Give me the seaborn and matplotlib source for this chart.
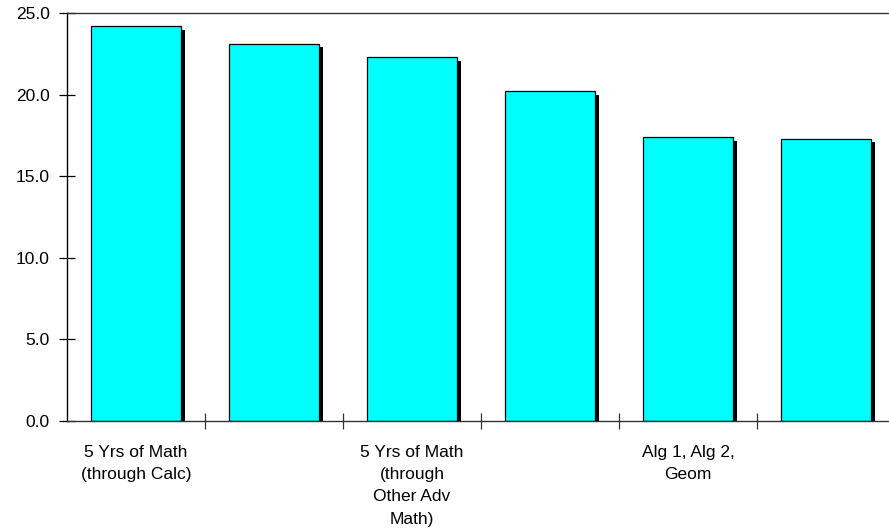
import matplotlib
matplotlib.use("Agg")
import matplotlib.pyplot as plt
import matplotlib.patheffects as pe
from matplotlib.ticker import FixedLocator, FormatStrFormatter
import numpy as np
import pandas as pd
import seaborn as sns

# Average scores by course-taking pattern
slots = [0, 1, 2, 3, 4, 5]
scores = [24.2, 23.1, 22.3, 20.2, 17.4, 17.3]
tick_labels = [
    "5 Yrs of Math\n(through Calc)",
    "",
    "5 Yrs of Math\n(through\nOther Adv\nMath)",
    "",
    "Alg 1, Alg 2,\nGeom",
    "",
]

df = pd.DataFrame({"slot": slots, "score": scores})

sns.set_theme(style="white")
plt.rcParams["font.family"] = ["Liberation Sans", "DejaVu Sans"]
plt.rcParams["text.color"] = "black"
plt.rcParams["xtick.labelcolor"] = "black"
plt.rcParams["ytick.labelcolor"] = "black"

W, H = 889, 531
fig = plt.figure(figsize=(W / 100, H / 100), dpi=100)
x0, y0, pw, ph = 67, 421, 828, 408
ax = fig.add_axes([x0 / W, (H - y0) / H, pw / W, ph / H])

sns.barplot(data=df, x="slot", y="score", color="#00FFFF", width=0.645,
            edgecolor="black", linewidth=0.9, saturation=1, ax=ax)

shadow = [pe.SimplePatchShadow(offset=(3, -2.5), shadow_rgbFace="black", alpha=1.0),
          pe.Normal()]
for p in ax.patches:
    p.set_path_effects(shadow)

ax.set_xlim(-0.5, 5.5)
ax.set_ylim(0, 25)
ax.set_xlabel("")
ax.set_ylabel("")

ax.set_yticks([0, 5, 10, 15, 20, 25])
ax.yaxis.set_major_formatter(FormatStrFormatter("%.1f"))
ax.tick_params(axis="y", which="major", direction="inout", length=11, width=0.9,
               color="black", labelsize=12.5, pad=7, left=True, labelcolor="black")

ax.set_xticks(slots)
ax.set_xticklabels(tick_labels, fontsize=12.5, linespacing=1.62, color="black")
ax.tick_params(axis="x", which="major", length=0, pad=17)
ax.xaxis.set_minor_locator(FixedLocator(np.arange(0.5, 5.5, 1.0)))
ax.tick_params(axis="x", which="minor", direction="inout", length=11, width=0.9,
               color="#333333", bottom=True)

for side in ["top", "bottom", "left"]:
    ax.spines[side].set_visible(True)
    ax.spines[side].set_linewidth(1.0)
ax.spines["left"].set_color("black")
ax.spines["bottom"].set_color("#333333")
ax.spines["top"].set_color("#333333")
ax.spines["right"].set_visible(False)
ax.grid(False)

fig.savefig("out.png", dpi=100)
